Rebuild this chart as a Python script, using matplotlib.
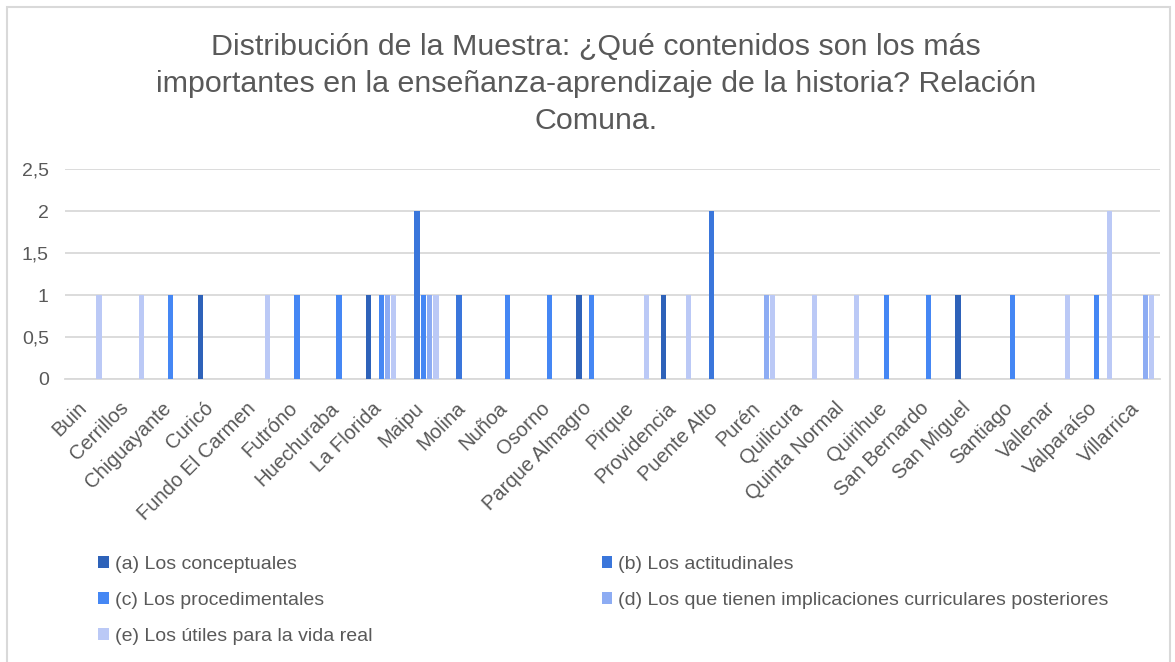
import numpy as np
import matplotlib.pyplot as plt
from matplotlib.patches import Rectangle
from matplotlib.transforms import ScaledTranslation

plt.rcParams["font.family"] = ["Liberation Sans", "DejaVu Sans"]

comunas = ["Buin", "Cerrillos", "Chiguayante", "Curicó", "Fundo El Carmen",
           "Futróno", "Huechuraba", "La Florida", "Maipu", "Molina", "Nuñoa",
           "Osorno", "Parque Almagro", "Pirque", "Providencia", "Puente Alto",
           "Purén", "Quilicura", "Quinta Normal", "Quirihue", "San Bernardo",
           "San Miguel", "Santiago", "Vallenar", "Valparaíso", "Villarrica"]

conceptuales = [0, 0, 0, 1, 0, 0, 0, 1, 0, 0, 0, 0, 1, 0, 1, 0, 0, 0, 0, 0, 0, 1, 0, 0, 0, 0]
actitudinales = [0, 0, 0, 0, 0, 0, 0, 0, 2, 1, 0, 0, 0, 0, 0, 2, 0, 0, 0, 0, 0, 0, 0, 0, 0, 0]
procedimentales = [0, 0, 1, 0, 0, 1, 1, 1, 1, 0, 1, 1, 1, 0, 0, 0, 0, 0, 0, 1, 1, 0, 1, 0, 1, 0]
implicaciones = [0, 0, 0, 0, 0, 0, 0, 1, 1, 0, 0, 0, 0, 0, 0, 0, 1, 0, 0, 0, 0, 0, 0, 0, 0, 1]
utiles = [1, 1, 0, 0, 1, 0, 0, 1, 1, 0, 0, 0, 0, 1, 1, 0, 1, 1, 1, 0, 0, 0, 0, 1, 2, 1]

series = [
    ("(a) Los conceptuales", conceptuales, "#2E62B9"),
    ("(b) Los actitudinales", actitudinales, "#3A76DB"),
    ("(c) Los procedimentales", procedimentales, "#4587F4"),
    ("(d) Los que tienen implicaciones curriculares posteriores", implicaciones, "#8DACF3"),
    ("(e) Los útiles para la vida real", utiles, "#BBC9F6"),
]

gris = "#595959"

fig = plt.figure(figsize=(11.75, 6.62), dpi=100)
ax = fig.add_axes([0.0557, 0.4275, 0.9315, 0.3172])

x = np.arange(len(comunas))
paso = 0.15
handles = []
for i, (nombre, valores, color) in enumerate(series):
    b = ax.bar(x + (i - 2) * paso, valores, width=0.125, color=color, label=nombre, zorder=3)
    handles.append(b)

ax.set_xlim(-0.5, len(comunas) - 0.5)
ax.set_ylim(0, 2.5)
ax.set_yticks([0, 0.5, 1, 1.5, 2, 2.5])
ax.set_yticklabels(["0", "0,5", "1", "1,5", "2", "2,5"])
ax.yaxis.grid(True, color="#D9D9D9", linewidth=1.3, zorder=0)
for s in ["top", "right", "left"]:
    ax.spines[s].set_visible(False)
ax.spines["bottom"].set_color("#D9D9D9")
ax.spines["bottom"].set_linewidth(1.3)
ax.tick_params(axis="both", length=0, colors=gris, labelsize=14)
ax.tick_params(axis="x", labelsize=14.5, pad=14)
ax.tick_params(axis="y", pad=12)
ax.set_xticks(x)
ax.set_xticklabels(comunas, rotation=45, ha="right", va="top")
desplazamiento = ScaledTranslation(4 / 100, 0, fig.dpi_scale_trans)
for etiqueta in ax.get_xticklabels():
    etiqueta.set_transform(etiqueta.get_transform() + desplazamiento)

fig.text(0.507, 0.873, "Distribución de la Muestra: ¿Qué contenidos son los más\n"
         "importantes en la enseñanza-aprendizaje de la historia? Relación\n"
         "Comuna.", ha="center", va="center", fontsize=21.9, color=gris,
         linespacing=1.39)

orden = [handles[0], handles[2], handles[4], handles[1], handles[3]]
fig.legend(orden, [h.get_label() for h in orden], ncol=2, loc="upper left",
           bbox_to_anchor=(0.077, 0.172), frameon=False, fontsize=14,
           labelcolor=gris, handlelength=0.55, handleheight=0.55, handletextpad=0.3,
           columnspacing=11.8, labelspacing=0.98, borderaxespad=0)

fig.patches.append(Rectangle((7 / 1175, -0.1), (1170 - 7) / 1175, 1 - 7 / 662 + 0.1,
                             transform=fig.transFigure, fill=False,
                             edgecolor="#D9D9D9", linewidth=1.5))

fig.savefig("out.png", dpi=100)
plt.close(fig)
